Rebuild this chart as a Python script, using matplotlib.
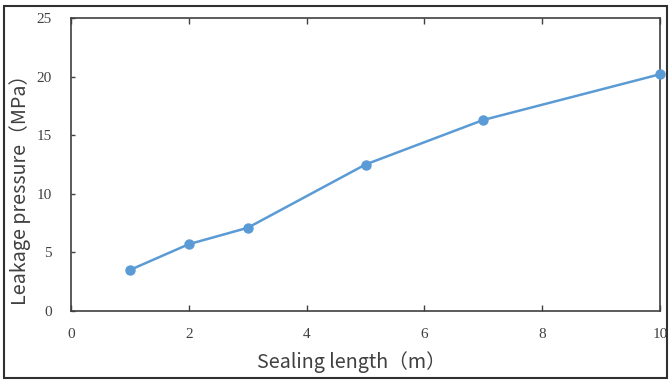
import matplotlib
matplotlib.use("Agg")
import matplotlib.pyplot as plt
from matplotlib.patches import Rectangle

sealing_length = [1, 2, 3, 5, 7, 10]
leakage_pressure = [3.5, 5.7, 7.1, 12.5, 16.3, 20.2]
x_ticks = [0, 2, 4, 6, 8, 10]
y_ticks = [0, 5, 10, 15, 20, 25]

W, H = 669, 380
fig = plt.figure(figsize=(W/100, H/100), dpi=100)
ax = fig.add_axes([71/W, 1-311/H, (660-71)/W, (311-18)/H])

ax.plot(sealing_length, leakage_pressure, color="#5B9BD5", lw=1.8,
        marker="o", ms=6.5, clip_on=False, zorder=3)
ax.set_xlim(0, 10)
ax.set_ylim(0, 25)
ax.set_xticks(x_ticks)
ax.set_yticks(y_ticks)
for s in ax.spines.values():
    s.set_color("#404040")
    s.set_linewidth(1.2)
ax.tick_params(direction="in", length=4, width=1, color="#404040",
               top=True, labelsize=11, labelcolor="#404040", pad=12)
ax.tick_params(axis="y", pad=14, length=3)
for lab in ax.get_xticklabels() + ax.get_yticklabels():
    lab.set_family("Liberation Serif")

lab_font = ["Noto Sans CJK SC", "DejaVu Sans"]
fig.text(351/W, 1-362/H, "Sealing length（m）", fontsize=14.2, family=lab_font,
         color="#404040", ha="center", va="center")
fig.text(20/W, 1-185/H, "Leakage pressure（MPa）", fontsize=14.2, family=lab_font,
         color="#404040", ha="center", va="center", rotation=90)

fig.patches.append(Rectangle((4/W, 1-378/H), (667-4)/W, (378-6)/H,
                             transform=fig.transFigure, fill=False,
                             edgecolor="#303030", lw=1.5))
fig.savefig("out.png", dpi=100)
